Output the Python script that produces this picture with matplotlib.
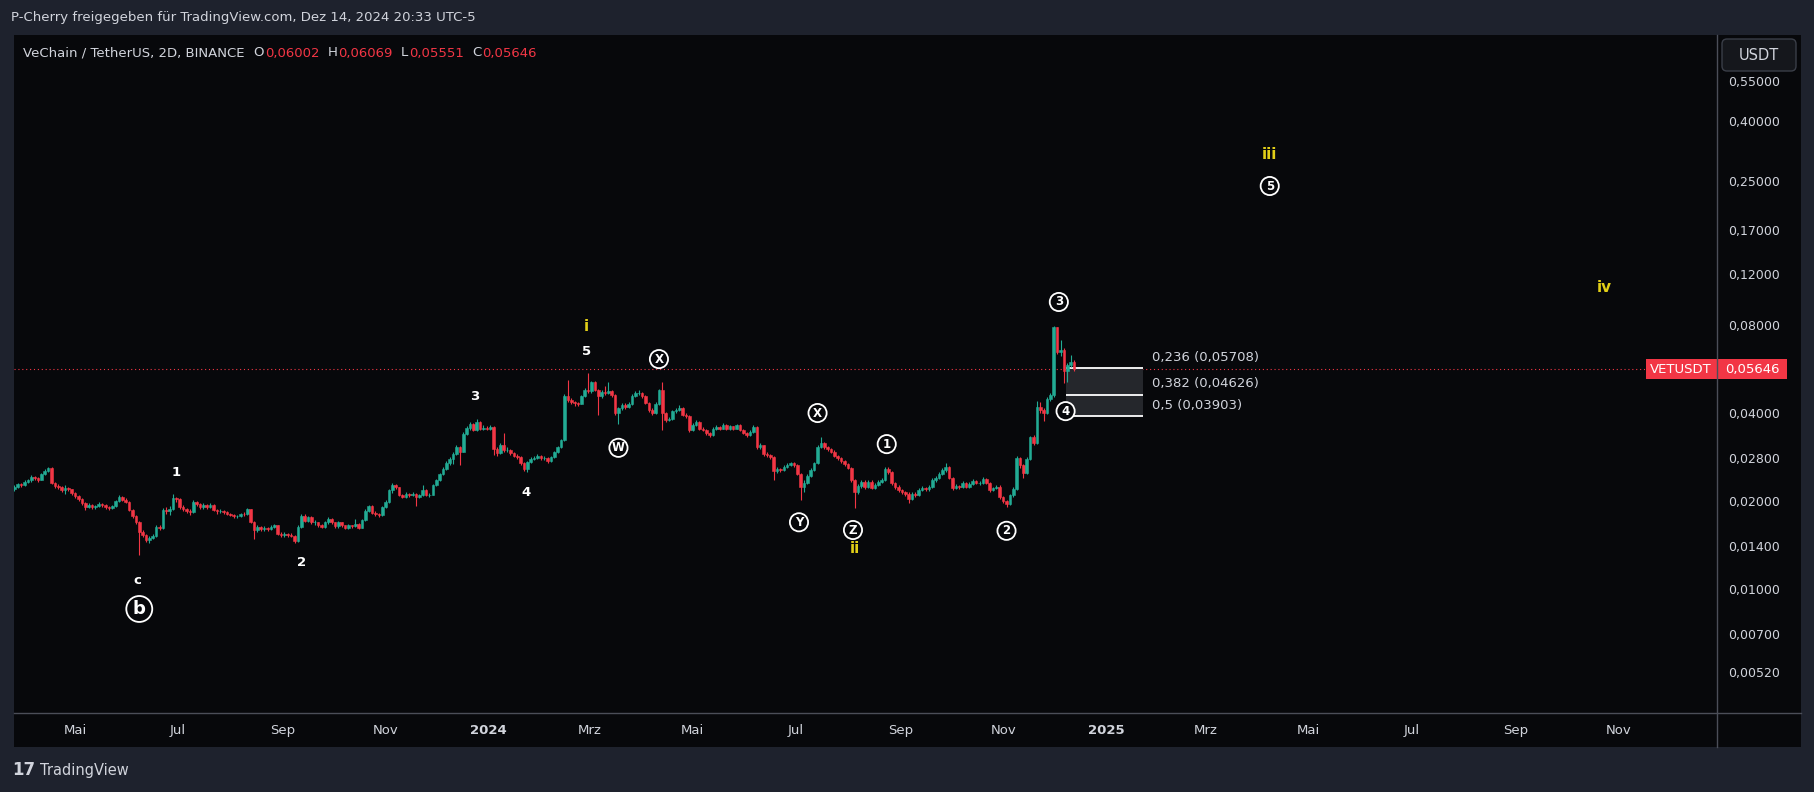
import datetime as dt
import numpy as np
import matplotlib
matplotlib.use('Agg')
import matplotlib.pyplot as plt
import matplotlib.dates as mdates
from matplotlib.patches import Rectangle, FancyBboxPatch
from matplotlib.lines import Line2D
from matplotlib.ticker import FixedLocator, FuncFormatter, NullLocator

W, H = 1815, 792
BG = '#1e222d'
PANEL = '#07080b'
TXT = '#d1d4dc'
UP = '#22ab94'
DOWN = '#f23645'
YEL = '#e2cf17'
LINE = '#4b4e58'

# ---- VET/USDT 2D candles, prices in milli-USDT ----
first_day = dt.date(2023, 3, 26)
first_open = 21.9
closes = [
    22.3, 22.8, 22.7, 23.2, 23.5, 24.2, 23.9, 23.6, 24.8, 25.4,
    25.9, 23.1, 22.5, 22.3, 21.8, 22.1, 21.9, 21.3, 20.8, 20.3,
    19.6, 19.1, 19.3, 19.0, 19.2, 19.5, 19.3, 19.0, 18.9, 19.2,
    20.0, 20.6, 20.2, 19.8, 18.6, 17.7, 16.95, 15.7, 15.3, 14.7,
    14.95, 15.2, 16.3, 16.2, 18.6, 18.4, 18.8, 20.4, 20.3, 19.1,
    18.8, 18.5, 18.3, 19.8, 19.5, 19.0, 19.4, 19.0, 19.4, 18.6,
    18.4, 18.5, 18.3, 18.1, 17.95, 17.7, 17.8, 18.1, 18.0, 18.7,
    17.0, 15.9, 16.3, 16.0, 16.2, 16.0, 16.3, 16.5, 15.45, 15.3,
    15.4, 15.3, 15.2, 14.6, 16.3, 17.8, 17.1, 17.6, 16.9, 16.9,
    16.5, 16.3, 16.9, 17.4, 16.9, 16.4, 16.9, 16.5, 16.2, 16.5,
    16.4, 16.7, 16.2, 17.2, 18.5, 19.2, 18.2, 18.0, 17.9, 19.0,
    19.9, 21.8, 22.7, 22.3, 21.0, 20.7, 21.2, 20.9, 21.2, 20.7,
    20.9, 21.8, 21.0, 21.0, 22.7, 23.6, 24.8, 25.8, 26.9, 27.9,
    29.0, 30.7, 29.5, 34.0, 35.5, 36.6, 35.0, 37.2, 35.3, 35.6,
    35.3, 35.8, 30.0, 29.2, 31.1, 29.9, 29.9, 29.1, 28.6, 28.3,
    26.9, 25.8, 27.2, 27.9, 28.0, 28.5, 28.0, 28.1, 27.3, 28.3,
    29.3, 30.5, 32.3, 45.7, 44.3, 43.5, 43.2, 43.0, 45.7, 48.0,
    47.5, 51.0, 48.0, 45.7, 47.3, 46.7, 47.5, 46.0, 39.9, 41.5,
    42.6, 42.0, 43.0, 45.7, 46.7, 47.0, 45.7, 43.2, 41.0, 40.0,
    43.0, 48.0, 39.9, 38.0, 38.3, 40.5, 41.0, 41.5, 39.5, 39.0,
    35.0, 36.5, 37.3, 35.4, 35.0, 34.1, 33.6, 35.4, 35.9, 35.4,
    36.4, 35.4, 36.0, 35.4, 36.4, 35.0, 34.1, 33.6, 34.5, 35.9,
    30.5, 31.0, 29.0, 28.7, 28.3, 25.3, 25.8, 25.5, 26.2, 26.5,
    26.9, 26.5, 24.8, 22.4, 23.0, 24.4, 25.5, 26.9, 30.7, 31.6,
    30.5, 30.0, 29.5, 28.5, 28.0, 27.4, 26.7, 26.0, 23.6, 21.5,
    22.5, 23.2, 22.4, 23.3, 22.2, 22.7, 23.3, 23.6, 25.8, 25.1,
    23.0, 22.4, 21.8, 21.5, 21.2, 20.3, 21.2, 21.0, 21.8, 22.2,
    21.9, 22.3, 23.6, 24.0, 24.8, 25.5, 26.2, 24.0, 22.1, 22.5,
    22.4, 23.1, 22.4, 22.9, 23.4, 23.0, 23.1, 23.7, 23.1, 21.8,
    22.1, 22.4, 20.6, 20.0, 19.5, 20.9, 22.0, 28.0, 26.5, 25.0,
    27.9, 33.0, 31.6, 42.0, 41.0, 40.0, 44.5, 46.0, 78.6, 64.5,
    66.0, 55.8, 58.5, 60.02, 56.46,
]
highs = [
    22.6, 23.0, 23.1, 23.5, 23.8, 24.5, 24.4, 24.1, 25.0, 25.7,
    26.2, 26.1, 23.3, 22.8, 22.5, 22.6, 22.3, 22.0, 21.5, 21.0,
    20.5, 19.8, 19.6, 19.5, 19.4, 19.8, 19.7, 19.5, 19.2, 19.4,
    20.2, 20.9, 20.8, 20.4, 20.0, 18.8, 17.9, 17.1, 15.9, 15.4,
    15.2, 15.4, 16.5, 16.6, 18.9, 19.1, 19.2, 21.1, 20.7, 20.4,
    19.3, 18.9, 18.7, 20.1, 20.0, 19.7, 19.6, 19.5, 19.7, 19.5,
    18.8, 18.7, 18.6, 18.4, 18.2, 18.0, 17.9, 18.2, 18.3, 18.9,
    18.8, 17.1, 16.5, 16.4, 16.4, 16.3, 16.5, 16.7, 16.6, 15.6,
    15.6, 15.5, 15.5, 15.3, 16.5, 18.0, 18.1, 17.8, 17.7, 17.2,
    17.0, 16.7, 17.1, 17.6, 17.5, 17.0, 17.1, 17.0, 16.6, 16.7,
    16.6, 17.3, 16.8, 17.4, 18.7, 19.4, 19.3, 18.4, 18.2, 19.2,
    20.1, 22.0, 23.0, 22.9, 22.4, 21.2, 21.4, 21.3, 21.4, 21.3,
    21.1, 22.7, 21.9, 21.3, 22.9, 23.8, 25.0, 26.1, 27.3, 28.3,
    29.4, 31.2, 30.9, 34.4, 36.0, 37.2, 36.9, 38.3, 37.5, 36.5,
    36.0, 36.3, 36.0, 30.5, 31.6, 34.1, 30.6, 30.2, 29.4, 29.0,
    28.5, 27.1, 27.5, 28.2, 28.4, 29.0, 28.7, 28.4, 28.2, 28.5,
    29.6, 30.8, 32.7, 46.5, 51.9, 45.0, 44.0, 43.8, 46.2, 48.6,
    54.9, 51.5, 51.4, 48.5, 48.0, 49.5, 51.2, 47.8, 46.4, 42.0,
    43.2, 43.3, 43.6, 46.6, 47.5, 47.8, 47.3, 46.0, 43.5, 41.5,
    43.5, 48.5, 51.2, 40.3, 38.9, 41.0, 41.6, 42.5, 41.8, 39.9,
    39.3, 36.9, 37.8, 37.6, 35.8, 35.3, 34.4, 35.8, 36.4, 36.2,
    36.9, 36.6, 36.3, 36.2, 36.8, 36.6, 35.3, 34.4, 34.9, 36.5,
    36.1, 31.5, 31.2, 29.4, 29.0, 28.5, 26.2, 26.0, 26.5, 26.9,
    27.2, 27.1, 26.7, 25.0, 23.5, 24.8, 25.9, 27.2, 31.0, 33.2,
    31.9, 30.9, 30.3, 29.8, 28.8, 28.2, 27.6, 26.9, 26.2, 23.8,
    22.9, 23.6, 23.5, 23.6, 23.5, 23.0, 23.6, 24.0, 26.1, 26.2,
    25.3, 23.2, 22.6, 22.0, 21.7, 21.4, 21.5, 21.5, 22.1, 22.5,
    22.4, 22.6, 23.9, 24.4, 25.1, 26.0, 26.9, 26.4, 24.2, 22.8,
    22.7, 23.4, 23.3, 23.2, 23.8, 23.6, 23.4, 24.2, 23.9, 23.3,
    22.4, 22.7, 22.6, 20.8, 20.2, 21.2, 22.4, 28.5, 28.3, 26.8,
    28.3, 33.4, 33.6, 44.0, 43.5, 41.5, 45.5, 46.8, 79.6, 79.0,
    71.1, 67.0, 59.3, 63.2, 60.69,
]
lows = [
    21.6, 22.1, 22.4, 22.5, 23.0, 23.3, 23.6, 23.3, 23.5, 24.6,
    25.2, 22.9, 22.2, 21.9, 21.5, 21.2, 21.6, 21.0, 20.5, 20.0,
    19.4, 18.6, 18.9, 18.7, 18.8, 19.0, 19.0, 18.8, 18.6, 18.7,
    19.0, 19.8, 20.0, 19.6, 18.4, 17.5, 16.7, 13.1, 15.0, 14.5,
    14.4, 14.8, 15.0, 15.9, 16.0, 18.0, 17.9, 18.6, 19.9, 18.8,
    18.5, 18.2, 17.9, 18.2, 19.2, 18.8, 18.8, 18.8, 18.9, 18.4,
    18.1, 18.2, 18.1, 17.9, 17.7, 17.5, 17.5, 17.6, 17.8, 17.9,
    16.8, 14.85, 15.7, 15.8, 15.8, 15.8, 15.9, 16.1, 15.3, 15.1,
    15.1, 15.1, 15.0, 14.4, 14.5, 16.1, 16.9, 16.9, 16.7, 16.6,
    16.3, 16.1, 16.1, 16.7, 16.7, 16.2, 16.2, 16.3, 16.0, 16.0,
    16.2, 16.3, 16.0, 16.1, 17.1, 18.3, 18.0, 17.7, 17.6, 17.8,
    18.9, 19.7, 21.3, 22.0, 20.8, 20.5, 20.5, 20.7, 20.8, 19.2,
    20.5, 20.8, 20.8, 20.7, 20.9, 22.5, 23.4, 24.6, 25.6, 26.5,
    26.8, 28.8, 26.6, 29.3, 33.6, 35.0, 34.6, 34.8, 34.9, 35.0,
    34.9, 35.0, 28.8, 28.5, 28.9, 29.5, 29.3, 28.7, 28.2, 27.8,
    26.6, 25.4, 25.1, 27.0, 27.6, 27.8, 27.7, 27.7, 27.0, 27.1,
    28.1, 29.1, 30.3, 32.1, 43.8, 42.8, 42.4, 42.3, 42.8, 45.3,
    46.8, 47.0, 47.4, 39.4, 45.2, 46.0, 46.3, 45.4, 39.3, 36.8,
    41.0, 41.4, 41.7, 42.7, 45.3, 46.2, 45.2, 42.8, 40.4, 39.4,
    39.7, 42.6, 35.0, 37.4, 37.6, 38.0, 40.1, 40.6, 39.0, 38.5,
    34.5, 34.7, 36.2, 35.0, 34.6, 33.7, 33.0, 33.4, 35.1, 35.0,
    35.2, 35.0, 35.1, 35.0, 35.2, 34.7, 33.8, 33.2, 33.4, 34.3,
    30.1, 30.2, 28.6, 28.3, 27.9, 23.6, 25.0, 25.1, 25.3, 26.0,
    26.3, 26.2, 24.5, 20.1, 21.5, 22.8, 24.2, 25.3, 26.7, 30.4,
    30.2, 29.6, 29.1, 28.2, 27.6, 27.0, 26.4, 25.7, 23.3, 18.9,
    21.2, 22.2, 22.0, 22.1, 21.9, 21.9, 22.5, 23.0, 23.4, 24.8,
    22.7, 22.0, 21.5, 21.1, 20.8, 19.6, 20.1, 20.7, 20.8, 21.6,
    21.6, 21.6, 22.1, 23.3, 23.8, 24.6, 25.2, 23.8, 21.8, 21.9,
    22.0, 22.2, 22.1, 22.2, 22.7, 22.8, 22.7, 22.9, 22.8, 21.5,
    21.6, 21.9, 20.3, 19.7, 19.0, 19.3, 20.7, 21.8, 25.9, 24.0,
    24.8, 27.6, 31.0, 31.3, 40.0, 37.5, 39.8, 44.0, 45.5, 63.5,
    62.8, 50.8, 51.2, 57.5, 55.51,
]

# ---- Elliott wave labels: text, date, price (mUSDT), style ----
wave_text = ['c', 'b', '1', '2', '3', '4', '5', 'i', 'W', 'X', 'Y', 'X', 'Z', 'ii',
             '1', '2', '3', '4', 'iii', '5', 'iv']
wave_date = ['2023-06-07', '2023-06-08', '2023-06-30', '2023-09-12', '2023-12-24',
             '2024-01-23', '2024-02-28', '2024-02-28', '2024-03-18', '2024-04-11',
             '2024-07-03', '2024-07-14', '2024-08-04', '2024-08-05', '2024-08-24',
             '2024-11-03', '2024-12-04', '2024-12-08', '2025-04-08', '2025-04-08',
             '2025-10-23']
wave_price = [10.64, 8.53, 25.1, 12.26, 45.7, 21.3, 65.2, 79.4, 30.4, 61.2,
              16.9, 40.0, 15.9, 13.7, 31.3, 15.8, 96.0, 40.6, 308.0, 239.6, 108.0]
wave_style = ['plain', 'bigcirc', 'plain', 'plain', 'plain', 'plain', 'plain', 'yellow',
              'circ', 'circ', 'circ', 'circ', 'circ', 'yellow', 'circ', 'circ', 'circ',
              'circ', 'yellow', 'circ', 'yellow']

# ---- Fibonacci retracement ----
fib_levels = ['0,236', '0,382', '0,5']
fib_prices = [0.05708, 0.04626, 0.03903]
fib_start = dt.date(2024, 12, 8)
fib_end = dt.date(2025, 1, 23)
fib_label_day = dt.date(2025, 1, 28)

price_ticks = [0.0052, 0.007, 0.01, 0.014, 0.02, 0.028, 0.04, 0.08, 0.12, 0.17, 0.25, 0.40, 0.55]
month_ticks = ['2023-05-01', '2023-07-01', '2023-09-01', '2023-11-01', '2024-01-01',
               '2024-03-01', '2024-05-01', '2024-07-01', '2024-09-01', '2024-11-01',
               '2025-01-01', '2025-03-01', '2025-05-01', '2025-07-01', '2025-09-01',
               '2025-11-01']
month_labels = ['Mai', 'Jul', 'Sep', 'Nov', '2024', 'Mrz', 'Mai', 'Jul', 'Sep', 'Nov',
                '2025', 'Mrz', 'Mai', 'Jul', 'Sep', 'Nov']


def fx(px):
    return px / W


def fy(py):
    return 1 - py / H


def fmt(v):
    return f'{v:.5f}'.replace('.', ',')


def main():
    plt.rcParams['font.family'] = ['DejaVu Sans']
    fig = plt.figure(figsize=(W / 100, H / 100), dpi=100, facecolor=BG)
    fig.add_artist(Rectangle((fx(14), fy(747)), fx(1801) - fx(14), fy(35) - fy(747),
                             transform=fig.transFigure, fc=PANEL, ec='none', zorder=-1))

    ax = fig.add_axes([fx(14), fy(713), (1717 - 14) / W, (713 - 35) / H])
    ax.set_facecolor(PANEL)
    for s in ax.spines.values():
        s.set_visible(False)

    c = np.array(closes) / 1000
    o = np.array([first_open] + closes[:-1]) / 1000
    hi = np.array(highs) / 1000
    lo = np.array(lows) / 1000
    dates = [first_day + dt.timedelta(days=2 * i) for i in range(len(closes))]
    t = mdates.date2num(dates)
    col = np.where(c >= o, UP, DOWN)

    ax.set_yscale('log')
    ax.vlines(t, lo, hi, colors=col, lw=0.8, zorder=3)
    ax.bar(t, np.abs(c - o), bottom=np.minimum(o, c), width=1.55, color=col,
           edgecolor=col, lw=0.4, zorder=4)

    ax.set_xlim(mdates.date2num(dt.datetime(2023, 3, 25, 18)),
                mdates.date2num(dt.datetime(2025, 12, 29, 2)))
    ax.set_ylim(0.003756, 0.7882)

    ax.yaxis.set_major_locator(FixedLocator(price_ticks))
    ax.yaxis.set_minor_locator(NullLocator())
    ax.yaxis.set_major_formatter(FuncFormatter(lambda v, p: fmt(v)))
    ax.yaxis.tick_right()
    ax.tick_params(axis='y', length=0, pad=8, labelsize=9, labelcolor=TXT)

    ax.set_xticks(mdates.date2num([dt.date.fromisoformat(d) for d in month_ticks]))
    ax.set_xticklabels(month_labels)
    ax.tick_params(axis='x', length=0, pad=8, labelsize=9.5, labelcolor=TXT)
    for lab in ax.get_xticklabels():
        if lab.get_text().isdigit():
            lab.set_fontweight('bold')

    # last price line
    ax.axhline(c[-1], color=DOWN, lw=0.8, ls=(0, (1, 2.5)), zorder=1)

    # fib retracement box
    f0, f1 = mdates.date2num(fib_start), mdates.date2num(fib_end)
    ax.fill_between([f0, f1], fib_prices[0], fib_prices[-1], color='#25272c', lw=0, zorder=1)
    for lev, pr in zip(fib_levels, fib_prices):
        ax.hlines(pr, f0, f1, color='white', lw=1.3, zorder=2)
        ax.annotate(f'{lev} ({fmt(pr)})', (mdates.date2num(fib_label_day), pr),
                    xytext=(0, 3), textcoords='offset points', ha='left', va='bottom',
                    color=TXT, fontsize=9.5, zorder=6)

    # wave labels
    for txt, d, pr, st in zip(wave_text, wave_date, wave_price, wave_style):
        xd = mdates.date2num(dt.date.fromisoformat(d))
        yd = pr / 1000
        if st == 'plain':
            ax.text(xd, yd, txt, color='white', fontsize=9.5, fontweight='bold',
                    ha='center', va='center', zorder=7)
        elif st == 'yellow':
            ax.text(xd, yd, txt, color=YEL, fontsize=11, fontweight='bold',
                    ha='center', va='center', zorder=7)
        else:
            fs = 13 if st == 'bigcirc' else 8.5
            ax.text(xd, yd, txt, color='white', fontsize=fs, fontweight='bold',
                    ha='center', va='center', zorder=7,
                    bbox=dict(boxstyle='circle,pad=0.22', fc=PANEL, ec='white', lw=1.3))

    # axis borders
    fig.add_artist(Line2D([fx(14), fx(1801)], [fy(713), fy(713)], color=LINE, lw=1,
                          transform=fig.transFigure, zorder=8))
    fig.add_artist(Line2D([fx(1717), fx(1717)], [fy(35), fy(747)], color=LINE, lw=1,
                          transform=fig.transFigure, zorder=8))

    # price label on axis
    fig.canvas.draw()
    ypx = ax.transData.transform((t[0], c[-1]))[1]
    py = H - ypx
    fig.add_artist(Rectangle((fx(1646), fy(py + 10)), (1787 - 1646) / W, 20 / H,
                             transform=fig.transFigure, fc=DOWN, ec='none', zorder=7))
    fig.text(fx(1681), fy(py), 'VETUSDT', color='white', fontsize=9.5, ha='center',
             va='center', zorder=9)
    fig.text(fx(1752), fy(py), fmt(c[-1]), color='white', fontsize=9.5, ha='center',
             va='center', zorder=9)

    # currency button
    fig.add_artist(FancyBboxPatch((17.22, (H - 71) / 100), 0.74, 0.32,
                                  boxstyle='round,pad=0,rounding_size=0.05',
                                  fc='#15171c', ec='#3a3e48', lw=1,
                                  transform=fig.dpi_scale_trans, zorder=8))
    fig.text(fx(1759), fy(55), 'USDT', color=TXT, fontsize=10.5, ha='center',
             va='center', zorder=9)

    # header
    fig.text(fx(11), fy(17), 'P-Cherry freigegeben für TradingView.com, Dez 14, 2024 20:33 UTC-5',
             color=TXT, fontsize=9.5, ha='left', va='center')
    renderer = fig.canvas.get_renderer()
    parts = [('VeChain / TetherUS, 2D, BINANCE', TXT, 9), ('O', TXT, 1), (fmt(o[-1]), DOWN, 8),
             ('H', TXT, 1), (fmt(hi[-1]), DOWN, 8), ('L', TXT, 1), (fmt(lo[-1]), DOWN, 8),
             ('C', TXT, 1), (fmt(c[-1]), DOWN, 0)]
    x = 23
    for s, colr, gap in parts:
        tx = fig.text(fx(x), fy(53), s, color=colr, fontsize=9.5, ha='left', va='center')
        bb = tx.get_window_extent(renderer)
        x = bb.x1 + gap

    # footer logo
    fig.text(fx(12), fy(770), '17', color=TXT, fontsize=12, fontweight='heavy',
             ha='left', va='center')
    fig.text(fx(40), fy(770), 'TradingView', color=TXT, fontsize=10.5, ha='left', va='center')

    fig.savefig('out.png', dpi=100, facecolor=BG)


if __name__ == '__main__':
    main()
